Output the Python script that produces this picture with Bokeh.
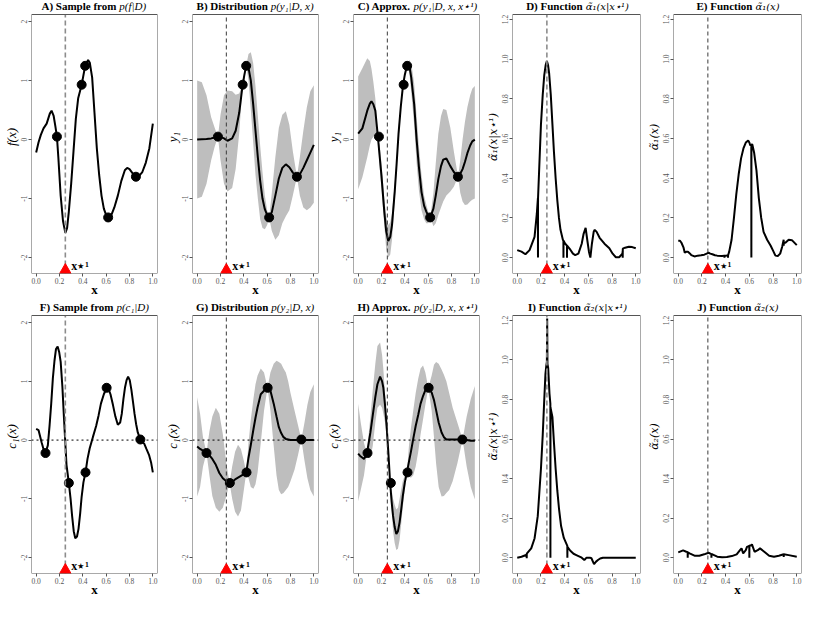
from bokeh.plotting import figure
from bokeh.layouts import gridplot
from bokeh.models import Span, Label, FixedTicker, NumeralTickFormatter, BoxAnnotation
from bokeh.embed import file_html
from bokeh.resources import INLINE

SERIF = "Liberation Serif"
MATH = "DejaVu Serif"

# ---------------- data ----------------
XSTAR = [0.25]

# observations
obs1_x = [0.178, 0.39, 0.42, 0.617, 0.855]
obs1_y = [0.05, 0.93, 1.25, -1.32, -0.63]
obs2_x = [0.08, 0.28, 0.423, 0.604, 0.893]
obs2_y = [-0.22, -0.73, -0.55, 0.89, 0.01]

# A) sample of f
a_x = [0.0, 0.02, 0.04, 0.063, 0.09, 0.117, 0.132, 0.15, 0.165, 0.178, 0.19, 0.21, 0.23, 0.25, 0.265,
       0.28, 0.3, 0.32, 0.34, 0.36, 0.39, 0.42, 0.445, 0.46, 0.48, 0.5, 0.52, 0.54, 0.56, 0.58, 0.6,
       0.617, 0.64, 0.67, 0.7, 0.73, 0.76, 0.78, 0.8, 0.83, 0.855, 0.88, 0.91, 0.94, 0.97, 1.0]
a_y = [-0.22, -0.05, 0.08, 0.19, 0.27, 0.44, 0.49, 0.4, 0.22, 0.05, -0.3, -0.95, -1.38, -1.58, -1.5,
       -1.22, -0.75, -0.2, 0.35, 0.7, 0.93, 1.25, 1.35, 1.3, 1.05, 0.45, -0.15, -0.6, -0.95, -1.17, -1.28,
       -1.32, -1.3, -1.15, -0.95, -0.7, -0.52, -0.48, -0.5, -0.58, -0.63, -0.62, -0.55, -0.39, -0.15, 0.27]

# B) distribution p(y1|D,x)
b_x = [0, 0.04, 0.08, 0.12, 0.15, 0.178, 0.2, 0.23, 0.26, 0.3, 0.33, 0.36, 0.39, 0.405, 0.42, 0.44, 0.46,
       0.48, 0.5, 0.52, 0.54, 0.56, 0.58, 0.6, 0.617, 0.64, 0.67, 0.7, 0.73, 0.76, 0.79, 0.82, 0.855,
       0.88, 0.91, 0.94, 0.97, 1.0]
b_mean = [0.0, 0.005, 0.01, 0.02, 0.035, 0.05, 0.045, 0.02, -0.02, 0.02, 0.15, 0.45, 0.93, 1.1, 1.25,
          1.22, 1.0, 0.6, 0.15, -0.3, -0.7, -1.0, -1.18, -1.28, -1.32, -1.23, -0.95, -0.66, -0.48, -0.42,
          -0.47, -0.56, -0.63, -0.59, -0.48, -0.35, -0.22, -0.09]
b_up = [1.0, 0.97, 0.75, 0.38, 0.2, 0.05, 0.42, 0.75, 0.83, 0.82, 0.76, 0.78, 0.93, 1.1, 1.25, 1.45, 1.48,
        1.3, 0.9, 0.4, -0.1, -0.55, -0.95, -1.2, -1.32, -0.9, -0.3, 0.2, 0.42, 0.48, 0.25, -0.2, -0.63,
        -0.3, 0.15, 0.55, 0.82, 0.92]
b_lo = [-1.0, -0.97, -0.75, -0.35, -0.12, 0.05, -0.35, -0.75, -0.88, -0.82, -0.5, 0.1, 0.93, 1.0, 1.25,
        1.0, 0.5, -0.05, -0.6, -1.0, -1.35, -1.5, -1.52, -1.45, -1.32, -1.55, -1.7, -1.62, -1.42, -1.3,
        -1.2, -0.95, -0.63, -0.95, -1.15, -1.2, -1.15, -1.07]

# C) approx p(y1|D,x,x*)
c_x = [0, 0.036, 0.078, 0.1, 0.114, 0.13, 0.147, 0.169, 0.185, 0.2, 0.224, 0.24, 0.258, 0.275, 0.29,
       0.313, 0.33, 0.346, 0.365, 0.385, 0.4, 0.418, 0.438, 0.455, 0.48, 0.501, 0.52, 0.543, 0.565, 0.584,
       0.6, 0.618, 0.645, 0.665, 0.687, 0.71, 0.729, 0.756, 0.79, 0.82, 0.856, 0.875, 0.895, 0.915, 0.936,
       0.96, 0.978, 1.0]
c_mean = [0.1, 0.19, 0.49, 0.61, 0.65, 0.6, 0.49, 0.05, -0.3, -0.62, -1.22, -1.55, -1.72, -1.65, -1.45,
          -0.89, -0.4, 0.1, 0.55, 0.93, 1.1, 1.25, 1.26, 1.05, 0.6, 0.0, -0.45, -0.89, -1.12, -1.22,
          -1.29, -1.32, -1.17, -0.95, -0.67, -0.45, -0.34, -0.32, -0.45, -0.55, -0.63, -0.58, -0.5, -0.38,
          -0.23, -0.1, -0.03, 0.0]
c_up = [1.07, 1.21, 1.38, 1.33, 1.2, 0.98, 0.7, 0.05, -0.1, -0.4, -1.0, -1.3, -1.45, -1.4, -1.25,
        -0.75, -0.3, 0.2, 0.62, 0.93, 1.12, 1.25, 1.35, 1.3, 0.95, 0.4, -0.1, -0.6, -0.95, -1.1,
        -1.22, -1.32, -0.9, -0.4, 0.1, 0.4, 0.52, 0.5, 0.2, -0.2, -0.63, -0.35, 0.0, 0.3,
        0.55, 0.75, 0.86, 0.91]
c_lo = [-0.84, -0.64, -0.3, -0.1, 0.0, 0.05, 0.1, 0.05, -0.5, -0.85, -1.45, -1.85, -2.0, -1.95, -1.7,
        -1.05, -0.5, 0.0, 0.48, 0.93, 1.05, 1.25, 1.15, 0.8, 0.25, -0.4, -0.85, -1.2, -1.35, -1.42,
        -1.42, -1.32, -1.47, -1.42, -1.28, -1.15, -1.05, -0.95, -0.88, -0.8, -0.63, -0.9, -1.05, -1.11,
        -1.1, -1.05, -1.02, -1.0]

# D) alpha1(x | x*)
d_x = [0, 0.036, 0.069, 0.104, 0.146, 0.165, 0.1745, 0.175, 0.1755, 0.19, 0.2, 0.215, 0.228, 0.24, 0.25,
       0.26, 0.269, 0.283, 0.297, 0.31, 0.324, 0.338, 0.352, 0.365, 0.385, 0.3895, 0.39, 0.3905, 0.405,
       0.4195, 0.42, 0.4205, 0.448, 0.47, 0.489, 0.516, 0.544, 0.56, 0.577, 0.593, 0.605, 0.617, 0.63,
       0.645, 0.654, 0.67, 0.695, 0.736, 0.777, 0.805, 0.832, 0.86, 0.887, 0.8895, 0.89, 0.8905, 0.91,
       0.942, 0.97, 1.0]
d_y = [0.038, 0.03, 0.017, 0.038, 0.105, 0.22, 0.3, 0.0, 0.3, 0.52, 0.67, 0.82, 0.92, 0.97, 0.99,
       0.97, 0.93, 0.82, 0.67, 0.53, 0.4, 0.29, 0.2, 0.14, 0.09, 0.085, 0.0, 0.085, 0.07,
       0.06, 0.0, 0.06, 0.04, 0.02, 0.013, 0.02, 0.07, 0.12, 0.15, 0.08, 0.03, 0.0, 0.07,
       0.13, 0.14, 0.13, 0.1, 0.07, 0.047, 0.02, 0.002, 0.002, 0.02, 0.03, 0.0, 0.045, 0.05,
       0.055, 0.053, 0.047]

# E) alpha1(x)
e_x = [0, 0.015, 0.027, 0.045, 0.055, 0.07, 0.082, 0.1, 0.11, 0.137, 0.164, 0.192, 0.22, 0.24, 0.255,
       0.27, 0.288, 0.31, 0.329, 0.37, 0.3895, 0.39, 0.3905, 0.405, 0.4195, 0.42, 0.4205, 0.43, 0.45,
       0.47, 0.49, 0.51, 0.53, 0.55, 0.57, 0.59, 0.6, 0.608, 0.6165, 0.617, 0.6175, 0.625, 0.64, 0.66,
       0.68, 0.7, 0.72, 0.75, 0.78, 0.8, 0.82, 0.84, 0.86, 0.877, 0.8895, 0.89, 0.8905, 0.904, 0.932,
       0.959, 1.0]
e_y = [0.085, 0.085, 0.075, 0.05, 0.025, 0.03, 0.03, 0.02, 0.013, 0.006, 0.01, 0.012, 0.015, 0.02, 0.025,
       0.02, 0.017, 0.012, 0.01, 0.008, 0.01, 0.0, 0.01, 0.01, 0.012, 0.0, 0.012, 0.03, 0.09,
       0.2, 0.32, 0.42, 0.5, 0.55, 0.58, 0.59, 0.58, 0.565, 0.57, 0.0, 0.57, 0.57, 0.53, 0.44,
       0.3, 0.2, 0.13, 0.09, 0.06, 0.035, 0.01, 0.008, 0.02, 0.055, 0.09, 0.06, 0.075, 0.075, 0.09,
       0.088, 0.063]

# F) sample of c1
f_x = [0, 0.02, 0.047, 0.065, 0.08, 0.1, 0.115, 0.129, 0.143, 0.157, 0.17, 0.184, 0.197, 0.21, 0.225,
       0.239, 0.26, 0.28, 0.295, 0.308, 0.322, 0.335, 0.35, 0.363, 0.377, 0.39, 0.405, 0.423, 0.44,
       0.459, 0.486, 0.514, 0.535, 0.555, 0.58, 0.604, 0.62, 0.637, 0.658, 0.679, 0.7, 0.72, 0.734,
       0.748, 0.761, 0.775, 0.788, 0.802, 0.816, 0.83, 0.843, 0.857, 0.871, 0.893, 0.91, 0.926, 0.945,
       0.967, 0.985, 1.0]
f_y = [0.19, 0.17, -0.04, -0.17, -0.22, -0.09, 0.25, 0.62, 1.05, 1.35, 1.55, 1.59, 1.5, 1.33, 0.9,
       0.35, -0.42, -0.73, -1.0, -1.29, -1.55, -1.67, -1.64, -1.51, -1.25, -0.96, -0.72, -0.55, -0.32,
       -0.14, 0.05, 0.24, 0.42, 0.62, 0.78, 0.89, 0.87, 0.78, 0.6, 0.4, 0.26, 0.3, 0.45,
       0.7, 0.89, 1.02, 1.08, 1.02, 0.86, 0.65, 0.45, 0.27, 0.13, 0.01, -0.03, -0.06, -0.15,
       -0.25, -0.38, -0.55]

# G) distribution p(y2|D,x)
g_x = [0, 0.025, 0.05, 0.08, 0.105, 0.13, 0.16, 0.19, 0.22, 0.25, 0.278, 0.3, 0.325, 0.35, 0.375, 0.4,
       0.421, 0.44, 0.46, 0.482, 0.5, 0.518, 0.545, 0.573, 0.603, 0.628, 0.656, 0.68, 0.7, 0.72, 0.74,
       0.76, 0.78, 0.8, 0.835, 0.865, 0.893, 0.92, 0.945, 0.97, 1.0]
g_mean = [-0.11, -0.15, -0.18, -0.22, -0.26, -0.32, -0.42, -0.56, -0.65, -0.7, -0.73, -0.71, -0.67,
          -0.64, -0.61, -0.58, -0.55, -0.3, -0.08, 0.18, 0.38, 0.56, 0.78, 0.84, 0.89, 0.84, 0.62, 0.4,
          0.22, 0.12, 0.05, 0.02, 0.01, 0.0, 0.0, 0.0, 0.01, 0.0, 0.0, 0.0, 0.0]
g_up = [0.73, 0.45, 0.05, -0.22, 0.15, 0.4, 0.55, 0.45, 0.1, -0.4, -0.73, -0.45, -0.2, -0.08, -0.15,
        -0.35, -0.55, -0.05, 0.35, 0.7, 0.95, 1.1, 1.22, 1.15, 0.89, 1.15, 1.3, 1.35, 1.33, 1.3, 1.22,
        1.15, 1.0, 0.8, 0.5, 0.25, 0.01, 0.3, 0.6, 0.82, 0.95]
g_lo = [-0.96, -0.8, -0.45, -0.22, -0.6, -0.95, -1.15, -1.22, -1.15, -0.95, -0.73, -1.0, -1.22, -1.3,
        -1.2, -0.85, -0.55, -0.65, -0.8, -0.83, -0.75, -0.55, -0.05, 0.5, 0.89, 0.5, -0.1, -0.6, -0.85,
        -0.92, -0.9, -0.85, -0.8, -0.7, -0.5, -0.25, 0.01, -0.35, -0.65, -0.85, -0.96]

# H) approx p(y2|D,x,x*)
h_x = [0, 0.022, 0.05, 0.075, 0.09, 0.105, 0.125, 0.147, 0.165, 0.188, 0.205, 0.216, 0.23, 0.244, 0.26,
       0.274, 0.287, 0.299, 0.313, 0.327, 0.341, 0.355, 0.368, 0.382, 0.4, 0.418, 0.435, 0.452, 0.472,
       0.493, 0.515, 0.535, 0.556, 0.576, 0.601, 0.63, 0.65, 0.668, 0.69, 0.715, 0.735, 0.756, 0.78,
       0.81, 0.85, 0.895, 0.93, 0.965, 1.0]
h_mean = [-0.23, -0.28, -0.32, -0.23, -0.05, 0.13, 0.42, 0.73, 0.95, 1.08, 1.0, 0.89, 0.6, 0.24, -0.25,
          -0.73, -1.05, -1.29, -1.48, -1.6, -1.55, -1.4, -1.2, -0.96, -0.72, -0.55, -0.37, -0.2, 0.02,
          0.24, 0.43, 0.62, 0.75, 0.85, 0.89, 0.81, 0.68, 0.51, 0.3, 0.13, 0.05, 0.01, 0.01,
          0.01, 0.01, 0.01, 0.0, -0.01, -0.01]
h_up = [0.62, 0.3, -0.05, -0.23, 0.1, 0.4, 0.85, 1.3, 1.6, 1.66, 1.45, 1.2, 0.8, 0.4, -0.15,
        -0.73, -0.85, -1.0, -1.1, -1.18, -1.15, -1.0, -0.85, -0.7, -0.6, -0.55, -0.1, 0.2, 0.5,
        0.8, 1.05, 1.22, 1.27, 1.15, 0.89, 1.1, 1.28, 1.33, 1.3, 1.2, 1.11, 1.0, 0.8,
        0.55, 0.3, 0.01, 0.4, 0.7, 0.92]
h_lo = [-1.04, -0.85, -0.6, -0.23, -0.3, -0.3, -0.1, 0.3, 0.55, 0.6, 0.55, 0.45, 0.3, 0.05, -0.4,
        -0.73, -1.2, -1.55, -1.75, -1.87, -1.85, -1.7, -1.45, -1.15, -0.85, -0.55, -0.62, -0.64, -0.6,
        -0.45, -0.2, 0.1, 0.35, 0.6, 0.89, 0.5, 0.05, -0.4, -0.8, -0.96, -0.95, -0.9, -0.85,
        -0.7, -0.4, 0.01, -0.45, -0.8, -1.01]

# I) alpha2(x | x*)
i_x = [0, 0.036, 0.0795, 0.08, 0.0805, 0.118, 0.146, 0.173, 0.2, 0.215, 0.228, 0.238, 0.245, 0.25,
       0.2525, 0.255, 0.261, 0.272, 0.2795, 0.28, 0.2805, 0.297, 0.31, 0.324, 0.338, 0.352, 0.37, 0.393,
       0.4225, 0.423, 0.4235, 0.448, 0.475, 0.503, 0.544, 0.566, 0.585, 0.613, 0.626, 0.648, 0.665,
       0.681, 0.7, 0.723, 0.8, 0.9, 1.0]
i_y = [0.0, 0.005, 0.015, -0.003, 0.02, 0.047, 0.097, 0.21, 0.45, 0.62, 0.8, 0.93, 0.97, 0.99,
       1.21, 0.98, 0.96, 0.83, 0.78, 0.0, 0.76, 0.71, 0.58, 0.45, 0.34, 0.25, 0.16, 0.1,
       0.06, 0.0, 0.055, 0.035, 0.02, 0.012, 0.0, -0.012, 0.0, 0.0, -0.003, -0.033, -0.02,
       -0.012, -0.004, 0.0, 0.0, 0.0, 0.0]

# J) alpha2(x)
j_x = [0, 0.041, 0.068, 0.0795, 0.08, 0.0805, 0.096, 0.137, 0.178, 0.219, 0.255, 0.2795, 0.28, 0.2805,
       0.288, 0.329, 0.37, 0.41, 0.452, 0.493, 0.521, 0.534, 0.548, 0.57, 0.58, 0.5995, 0.6, 0.6005,
       0.616, 0.622, 0.644, 0.671, 0.69, 0.726, 0.767, 0.808, 0.849, 0.8895, 0.89, 0.8905, 0.932, 1.0]
j_y = [0.027, 0.037, 0.03, 0.028, 0.0, 0.027, 0.022, 0.01, 0.01, 0.017, 0.025, 0.018, 0.0, 0.018,
       0.017, 0.005, 0.002, 0.003, 0.008, 0.017, 0.038, 0.047, 0.022, 0.038, 0.055, 0.06, 0.0, 0.06,
       0.063, 0.067, 0.03, 0.038, 0.047, 0.03, 0.01, 0.005, 0.01, 0.017, 0.003, 0.017, 0.013, 0.005]

# axis ticks
x_ticks = [0.0, 0.2, 0.4, 0.6, 0.8, 1.0]
y_ticks_f = [-2, -1, 0, 1, 2]
y_ticks_a = [0.0, 0.2, 0.4, 0.6, 0.8, 1.0, 1.2]

XLIM = (-0.04, 1.04)
YLIM_F = (-2.27, 2.12)
YLIM_A = (-0.08, 1.225)

GRAY_BAND = "#BEBEBE"
AX_COL = "#555555"
BOTTOM_PX = 26


def make_panel(row, ylim, yticks, yfmt, ylabel, tbold, tmath, tb_x, tm_x, math_font=SERIF):
    h = 299 if row == 0 else 300
    title_px = 14 if row == 0 else 16
    box_px = h - BOTTOM_PX - title_px
    span = ylim[1] - ylim[0]
    top_ext = ylim[1] + title_px * span / box_px
    p = figure(width=161, height=h, x_range=XLIM, y_range=(ylim[0], top_ext), title=None,
               output_backend="svg", toolbar_location=None,
               min_border_left=28, min_border_right=4,
               min_border_top=0, min_border_bottom=BOTTOM_PX)
    p.xgrid.visible = False
    p.ygrid.visible = False
    p.outline_line_color = None
    p.background_fill_color = "white"
    p.border_fill_color = "white"
    # the plot box, drawn below the title strip
    p.add_layout(BoxAnnotation(left=XLIM[0], right=XLIM[1], bottom=ylim[0], top=ylim[1],
                               fill_alpha=0, line_color=AX_COL, line_width=1, line_alpha=1))
    for ax in (p.xaxis[0], p.yaxis[0]):
        ax.axis_line_color = None
        ax.major_tick_line_color = AX_COL
        ax.major_tick_out = 3
        ax.major_tick_in = 0
        ax.minor_tick_line_color = None
        ax.major_label_text_font = SERIF
        ax.major_label_text_font_size = "7.5px"
        ax.major_label_text_color = AX_COL
        ax.major_label_standoff = 1
        ax.axis_label_text_font = SERIF
        ax.axis_label_text_font_size = "13px"
        ax.axis_label_text_color = "black"
    p.xaxis.ticker = FixedTicker(ticks=x_ticks)
    p.xaxis.formatter = NumeralTickFormatter(format="0.0")
    p.xaxis.axis_label = "x"
    p.xaxis.axis_label_text_font_style = "bold"
    p.xaxis.axis_label_standoff = -5
    p.yaxis.ticker = FixedTicker(ticks=yticks)
    p.yaxis.formatter = NumeralTickFormatter(format=yfmt)
    p.yaxis.major_label_orientation = "vertical"
    p.yaxis.axis_label = ylabel
    p.yaxis.axis_label_text_font_style = "italic"
    p.yaxis.axis_label_standoff = 0
    if math_font != SERIF:
        p.yaxis.axis_label_text_font = math_font
        p.yaxis.axis_label_text_font_size = "11px"

    # title in two parts (bold words + italic formula)
    p.add_layout(Label(x=tb_x, y=ylim[1], y_offset=3, text=tbold, text_font=SERIF,
                       text_font_size="11px", text_font_style="bold", text_align="right",
                       text_baseline="bottom", text_color="black"))
    p.add_layout(Label(x=tm_x, y=ylim[1], y_offset=3, text=tmath, text_font=math_font,
                       text_font_size="11px" if math_font == SERIF else "10px",
                       text_font_style="italic", text_align="left",
                       text_baseline="bottom", text_color="black"))
    return p, box_px


def decorate(p, box_px, ylim, light_dash, zero_line=False):
    if zero_line:
        p.add_layout(Span(location=0, dimension="width", line_color="black",
                          line_dash="2 3", line_width=1))
    if light_dash:
        p.segment(x0=XSTAR, y0=[ylim[0]], x1=XSTAR, y1=[ylim[1]], line_color="#8c8c8c",
                  line_dash="5 3", line_width=1.6)
    else:
        p.segment(x0=XSTAR, y0=[ylim[0]], x1=XSTAR, y1=[ylim[1]], line_color="#3a3a3a",
                  line_dash="4 3", line_width=1)
    span = ylim[1] - ylim[0]
    tri_y = ylim[0] + span * 3.3 / box_px
    p.scatter(XSTAR, [tri_y], marker="triangle", size=11.5, fill_color="red",
              line_color="red")
    p.add_layout(Label(x=XSTAR[0], y=ylim[0], x_offset=6, y_offset=1, text="x⋆¹",
                       text_font=SERIF, text_font_size="12px", text_font_style="bold",
                       text_align="left", text_baseline="bottom", text_color="black"))


LW = 2

# ---- row 1 ----
pA, bA = make_panel(0, YLIM_F, y_ticks_f, "0", "f(x)", "A) Sample from", "p(f|D)", 0.688, 0.713)
pA.line(a_x, a_y, line_color="black", line_width=LW)
pA.scatter(obs1_x, obs1_y, size=9, color="black")
decorate(pA, bA, YLIM_F, True)

pB, bB = make_panel(0, YLIM_F, y_ticks_f, "0", "y₁", "B) Distribution", "p(y₁|D, x)", 0.605, 0.630)
pB.varea(x=b_x, y1=b_lo, y2=b_up, fill_color=GRAY_BAND)
pB.line(b_x, b_mean, line_color="black", line_width=LW)
pB.scatter(obs1_x, obs1_y, size=9, color="black")
decorate(pB, bB, YLIM_F, False)

pC, bC = make_panel(0, YLIM_F, y_ticks_f, "0", "y₁", "C) Approx.", "p(y₁|D, x, x⋆¹)", 0.450, 0.475)
pC.varea(x=c_x, y1=c_lo, y2=c_up, fill_color=GRAY_BAND)
pC.line(c_x, c_mean, line_color="black", line_width=LW)
pC.scatter(obs1_x, obs1_y, size=9, color="black")
decorate(pC, bC, YLIM_F, False)

pD, bD = make_panel(0, YLIM_A, y_ticks_a, "0.0", "α̃₁(x|x⋆¹)", "D) Function", "α̃₁(x|x⋆¹)",
                    0.552, 0.577, math_font=MATH)
pD.line(d_x, d_y, line_color="black", line_width=LW)
decorate(pD, bD, YLIM_A, True)

pE, bE = make_panel(0, YLIM_A, y_ticks_a, "0.0", "α̃₁(x)", "E) Function", "α̃₁(x)",
                    0.626, 0.651, math_font=MATH)
pE.line(e_x, e_y, line_color="black", line_width=LW)
decorate(pE, bE, YLIM_A, False)

# ---- row 2 ----
pF, bF = make_panel(1, YLIM_F, y_ticks_f, "0", "c₁(x)", "F) Sample from", "p(c₁|D)", 0.663, 0.688)
pF.line(f_x, f_y, line_color="black", line_width=LW)
pF.scatter(obs2_x, obs2_y, size=9, color="black")
decorate(pF, bF, YLIM_F, True, zero_line=True)

pG, bG = make_panel(1, YLIM_F, y_ticks_f, "0", "c₁(x)", "G) Distribution", "p(y₂|D, x)", 0.610, 0.636)
pG.varea(x=g_x, y1=g_lo, y2=g_up, fill_color=GRAY_BAND)
pG.line(g_x, g_mean, line_color="black", line_width=LW)
pG.scatter(obs2_x, obs2_y, size=9, color="black")
decorate(pG, bG, YLIM_F, False, zero_line=True)

pH, bH = make_panel(1, YLIM_F, y_ticks_f, "0", "c₁(x)", "H) Approx.", "p(y₂|D, x, x⋆¹)", 0.453, 0.478)
pH.varea(x=h_x, y1=h_lo, y2=h_up, fill_color=GRAY_BAND)
pH.line(h_x, h_mean, line_color="black", line_width=LW)
pH.scatter(obs2_x, obs2_y, size=9, color="black")
decorate(pH, bH, YLIM_F, False, zero_line=True)

pI, bI = make_panel(1, YLIM_A, y_ticks_a, "0.0", "α̃₂(x|x⋆¹)", "I) Function", "α̃₂(x|x⋆¹)",
                    0.537, 0.562, math_font=MATH)
pI.line(i_x, i_y, line_color="black", line_width=LW)
decorate(pI, bI, YLIM_A, True)

pJ, bJ = make_panel(1, YLIM_A, y_ticks_a, "0.0", "α̃₂(x)", "J) Function", "α̃₂(x)",
                    0.617, 0.642, math_font=MATH)
pJ.line(j_x, j_y, line_color="black", line_width=LW)
decorate(pJ, bJ, YLIM_A, False)

grid = gridplot([[pA, pB, pC, pD, pE], [pF, pG, pH, pI, pJ]], toolbar_location=None)

open("out.html", "w").write(file_html(grid, INLINE))
